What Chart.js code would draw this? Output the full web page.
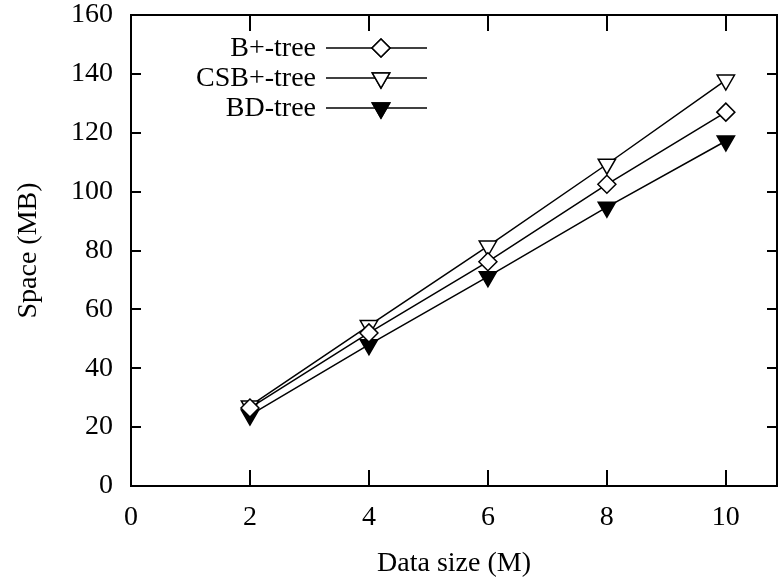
<!DOCTYPE html>
<html lang="en">
<head>
    <meta charset="UTF-8">
    <title>Space vs data size</title>
    <script src="https://cdn.jsdelivr.net/npm/chart.js"></script>
    <style>
        body, html {
            margin: 0;
            padding: 0;
            background: #fff;
        }
        #wrap {
            width: 779px;
            height: 580px;
        }
    </style>
</head>
<body>
    <div id="wrap"><canvas id="spaceChart" width="779" height="580"></canvas></div>
    <script>
      // data
      const dataSizes = [2, 4, 6, 8, 10];
      const bplusTree = [26.5, 52, 76.2, 102.5, 127];
      const csbTree = [27.2, 54.5, 81.5, 109.3, 137.9];
      const bdTree = [24.1, 48, 71.1, 94.7, 117.2];
      const xTicks = [0, 2, 4, 6, 8, 10];
      const yTicks = [0, 20, 40, 60, 80, 100, 120, 140, 160];

      const FONT = "'Liberation Serif', 'Times New Roman', serif";

      function toPoints(vals) {
        return dataSizes.map((x, i) => ({ x: x, y: vals[i] }));
      }

      // frame with inward ticks on all four sides + the legend gnuplot style
      const framePlugin = {
        id: 'frame',
        afterDraw(chart) {
          const ctx = chart.ctx;
          const a = chart.chartArea;
          const xs = chart.scales.x, ys = chart.scales.y;
          ctx.save();
          ctx.strokeStyle = '#000';
          ctx.lineWidth = 2;
          ctx.beginPath();
          xTicks.forEach(v => {
            const px = Math.round(xs.getPixelForValue(v));
            ctx.moveTo(px, a.bottom); ctx.lineTo(px, a.bottom - 16);
            ctx.moveTo(px, a.top); ctx.lineTo(px, a.top + 16);
          });
          yTicks.forEach(v => {
            const py = Math.round(ys.getPixelForValue(v));
            ctx.moveTo(a.left, py); ctx.lineTo(a.left + 10, py);
            ctx.moveTo(a.right, py); ctx.lineTo(a.right - 10, py);
          });
          ctx.stroke();
          ctx.strokeRect(a.left, a.top, a.right - a.left, a.bottom - a.top);

          // legend
          ctx.font = '28px ' + FONT;
          ctx.fillStyle = '#000';
          ctx.textAlign = 'right';
          ctx.textBaseline = 'middle';
          chart.data.datasets.forEach((ds, i) => {
            const y = 48 + i * 30;
            ctx.fillText(ds.label, 316, y + 1);
            ctx.lineWidth = 1.5;
            ctx.strokeStyle = '#000';
            ctx.beginPath();
            ctx.moveTo(326, y); ctx.lineTo(427, y);
            ctx.stroke();
            Chart.helpers.drawPoint(ctx, {
              pointStyle: ds.pointStyle,
              radius: ds.pointRadius,
              rotation: ds.rotation || 0,
              borderWidth: 1.5
            }, 381, y);
            ctx.fillStyle = ds.pointBackgroundColor;
            ctx.fill();
            ctx.stroke();
            ctx.fillStyle = '#000';
          });
          ctx.restore();
        }
      };

      const ctx = document.getElementById('spaceChart').getContext('2d');
      new Chart(ctx, {
        type: 'scatter',
        data: {
          datasets: [
            {
              label: 'B+-tree',
              data: toPoints(bplusTree),
              showLine: true,
              borderColor: '#000',
              borderWidth: 1.5,
              pointStyle: 'rectRot',
              pointRadius: 9,
              pointBackgroundColor: '#fff',
              pointBorderColor: '#000',
              pointBorderWidth: 1.5
            },
            {
              label: 'CSB+-tree',
              data: toPoints(csbTree),
              showLine: true,
              borderColor: '#000',
              borderWidth: 1.5,
              pointStyle: 'triangle',
              rotation: 180,
              pointRotation: 180,
              pointRadius: 10,
              pointBackgroundColor: '#fff',
              pointBorderColor: '#000',
              pointBorderWidth: 1.5
            },
            {
              label: 'BD-tree',
              data: toPoints(bdTree),
              showLine: true,
              borderColor: '#000',
              borderWidth: 1.5,
              pointStyle: 'triangle',
              rotation: 180,
              pointRotation: 180,
              pointRadius: 10,
              pointBackgroundColor: '#000',
              pointBorderColor: '#000',
              pointBorderWidth: 1.5
            }
          ]
        },
        options: {
          responsive: false,
          animation: false,
          layout: { autoPadding: false, padding: { top: 15, right: 2, left: 0, bottom: 0 } },
          plugins: {
            legend: { display: false },
            tooltip: { enabled: false }
          },
          scales: {
            x: {
              type: 'linear',
              min: 0,
              max: 10.86,
              afterFit: s => {
                s.height = 94;
                s.paddingLeft = 0; s.paddingRight = 0;
              },
              afterBuildTicks: s => { s.ticks = xTicks.map(v => ({ value: v })); },
              grid: { display: false, drawTicks: false },
              border: { display: false },
              ticks: {
                color: '#000',
                padding: 15,
                maxRotation: 0,
                font: { family: FONT, size: 28 }
              },
              title: {
                display: true,
                text: 'Data size (M)',
                color: '#000',
                padding: { top: 0, bottom: 0 },
                font: { family: FONT, size: 28 }
              }
            },
            y: {
              min: 0,
              max: 160,
              afterFit: s => {
                s.width = 131;
                s.paddingTop = 0; s.paddingBottom = 0;
              },
              afterBuildTicks: s => { s.ticks = yTicks.map(v => ({ value: v })); },
              grid: { display: false, drawTicks: false },
              border: { display: false },
              ticks: {
                color: '#000',
                padding: 18,
                font: { family: FONT, size: 28 }
              },
              title: {
                display: true,
                text: 'Space (MB)',
                color: '#000',
                padding: { top: 12, bottom: 0 },
                font: { family: FONT, size: 28 }
              }
            }
          }
        },
        plugins: [framePlugin]
      });
    </script>
</body>
</html>
